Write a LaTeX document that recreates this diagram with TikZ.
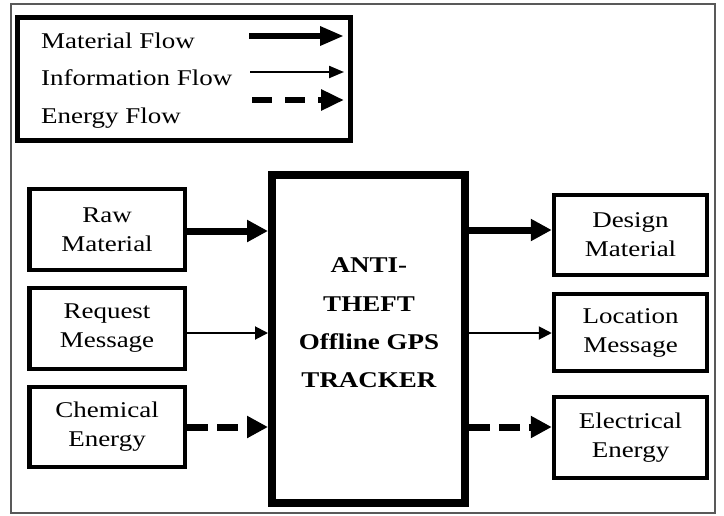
\documentclass[tikz,border=0pt]{standalone}
\usepackage{fontspec}
\setmainfont{Liberation Serif}[FakeStretch=1.2]
\usetikzlibrary{arrows.meta}
\begin{document}
\begin{tikzpicture}[x=1pt,y=-1pt,
  txt/.style={font=\fontsize{22.5}{29}\selectfont},
  box/.style={draw, line width=4.5pt, minimum width=155.5pt, minimum height=80pt,
    align=center, inner sep=0pt, txt},
  rbox/.style={box, minimum width=153pt},
  matarr/.style={line width=7pt, -{Triangle[length=21pt,width=21pt]}},
  infarr/.style={line width=2pt, -{Triangle[length=13pt,width=13pt]}},
  enarr/.style={line width=7pt, dash pattern=on 21pt off 9pt, -{Triangle[length=21pt,width=21pt]}},
  legtxt/.style={anchor=base west, inner sep=0pt, txt}
]
\useasboundingbox (0,0) rectangle (724,515);
% outer frame
\draw[black!65, line width=1.5pt] (11,4) rectangle (715,513);

% legend
\node[draw, line width=5pt, minimum width=333pt, minimum height=123pt, inner sep=0pt] (legend) at (184,79) {};
\node[legtxt] (lmat) at (41,48) {Material Flow};
\node[legtxt] (linf) at (41,85.5) {Information Flow};
\node[legtxt] (len) at (41,123) {Energy Flow};
\coordinate (l1s) at (249,36); \coordinate (l1e) at (344,36);
\coordinate (l2s) at (250,72); \coordinate (l2e) at (344,72);
\coordinate (l3s) at (252,100); \coordinate (l3e) at (344,100);
\draw[line width=6pt, -{Triangle[length=24pt,width=18pt]}] (l1s) -- (l1e);
\draw[line width=2.2pt, -{Triangle[length=15pt,width=12pt]}] (l2s) -- (l2e);
\draw[line width=6.5pt, dash pattern=on 20pt off 13pt, -{Triangle[length=23pt,width=20pt]}] (l3s) -- (l3e);

% main block
\node[draw, line width=8pt, minimum width=193pt, minimum height=328pt, inner sep=0pt] (main) at (368.5,339) {};
\node[align=center, font=\bfseries\fontsize{22.5}{38.3}\selectfont] (mainlabel) at (369,323)
  {ANTI-\\THEFT\\Offline GPS\\TRACKER};

% input boxes
\node[box, minimum height=81pt] (raw) at (107,229.5) {Raw\\Material};
\node[box, minimum height=81pt] (req) at (107,328.5) {Request\\Message};
\node[box] (chem) at (107,427) {Chemical\\Energy};

% output boxes
\node[rbox] (design) at (630.5,235) {Design\\Material};
\node[rbox, minimum height=77pt] (loc) at (630.5,332.5) {Location\\Message};
\node[rbox, minimum height=81pt] (elec) at (630.5,437.5) {Electrical\\Energy};

% connectors
\coordinate (a1) at ([yshift=-1.5pt]raw.east);
\coordinate (a2) at ([yshift=-4.5pt]req.east);
\coordinate (a3) at (chem.east);
\draw[matarr] (a1) -- (a1 -| main.west);
\draw[infarr] (a2) -- (a2 -| main.west);
\draw[enarr] (a3) -- (a3 -| main.west);

\coordinate (b1) at ([yshift=5pt]design.west);
\coordinate (b2) at ([yshift=-0.5pt]loc.west);
\coordinate (b3) at ([yshift=10.5pt]elec.west);
\draw[matarr] (b1 -| main.east) -- (b1);
\draw[infarr] (b2 -| main.east) -- (b2);
\draw[enarr] (b3 -| main.east) -- (b3);
\end{tikzpicture}
\end{document}
